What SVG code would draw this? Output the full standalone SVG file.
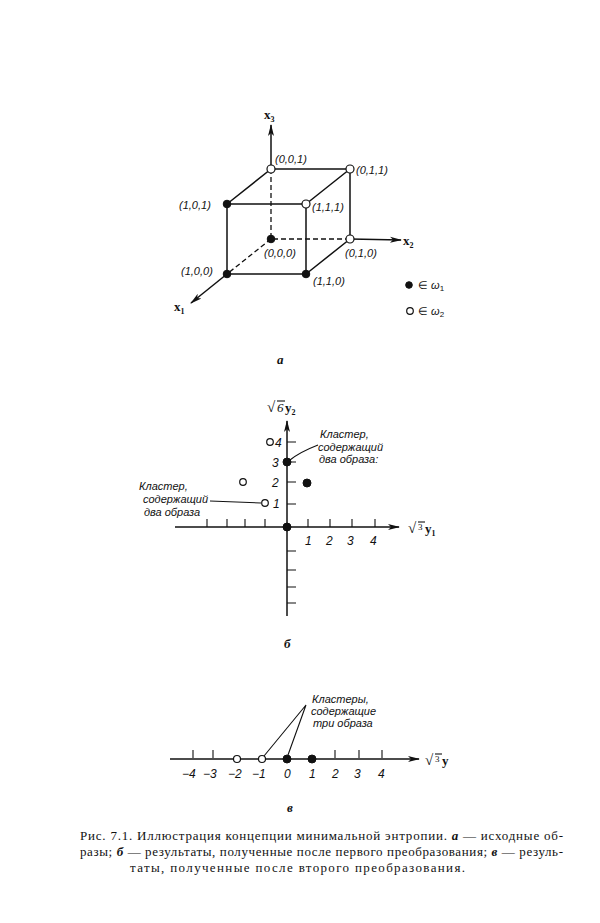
<svg xmlns="http://www.w3.org/2000/svg" width="600" height="923" viewBox="0 0 600 923">
<defs>
<style>
.ln{stroke:#111;stroke-width:1.5;fill:none}
.dsh{stroke:#111;stroke-width:1.3;fill:none;stroke-dasharray:5,3}
.tk{stroke:#111;stroke-width:1.1;fill:none}
.fd{fill:#111;stroke:#111;stroke-width:1}
.od{fill:#fff;stroke:#111;stroke-width:1.2}
.lb{font-family:"Liberation Sans",Arial,sans-serif;font-style:italic;font-size:11px;fill:#111}
.num{font-family:"Liberation Sans",Arial,sans-serif;font-style:italic;font-size:12px;fill:#111}
.ax{font-family:"Liberation Serif","Times New Roman",serif;font-weight:bold;font-size:13px;fill:#111}
.sub{font-size:8px}
.cap{font-family:"Liberation Serif","Times New Roman",serif;font-size:13px;fill:#111}
.pl{font-family:"Liberation Serif","Times New Roman",serif;font-style:italic;font-weight:bold;font-size:13px;fill:#111}
</style>
<marker id="ah" markerWidth="12" markerHeight="8" refX="11" refY="4" orient="auto" markerUnits="userSpaceOnUse">
<path d="M0,1 L12,4 L0,7 L3,4 Z" fill="#111"/>
</marker>
</defs>
<rect width="600" height="923" fill="#fff"/>

<!-- Panel a: cube -->
<g id="connectors-a">
<path class="ln" d="M227,204 H306 V274 H227 Z"/>
<path class="ln" d="M271,169 H350 V239"/>
<path class="ln" d="M227,204 L271,169 M306,204 L350,169 M306,274 L350,239"/>
<path class="dsh" d="M271,169 V239 H350 M271,239 L227,274"/>
<line class="ln" x1="271" y1="169" x2="271" y2="125" marker-end="url(#ah)"/>
<line class="ln" x1="350" y1="239" x2="401" y2="240" marker-end="url(#ah)"/>
<line class="ln" x1="227" y1="274" x2="191" y2="303" marker-end="url(#ah)"/>
</g>
<g id="axis-labels-a">
<text class="ax" x="264" y="119">x<tspan class="sub" dy="3">3</tspan></text>
<text class="ax" x="403" y="245">x<tspan class="sub" dy="3">2</tspan></text>
<text class="ax" x="174" y="311">x<tspan class="sub" dy="3">1</tspan></text>
</g>
<g id="v001"><circle class="od" cx="271" cy="169" r="4"/><text class="lb" x="275" y="163">(0,0,1)</text></g>
<g id="v011"><circle class="od" cx="350" cy="169" r="4"/><text class="lb" x="356" y="174">(0,1,1)</text></g>
<g id="v101"><circle class="fd" cx="227" cy="204" r="3.8"/><text class="lb" x="179" y="209">(1,0,1)</text></g>
<g id="v111"><circle class="od" cx="306" cy="204" r="4"/><text class="lb" x="312" y="211">(1,1,1)</text></g>
<g id="v000"><circle class="fd" cx="271" cy="239" r="3.8"/><text class="lb" x="264" y="257">(0,0,0)</text></g>
<g id="v010"><circle class="od" cx="350" cy="239" r="4"/><text class="lb" x="345" y="257">(0,1,0)</text></g>
<g id="v100"><circle class="fd" cx="227" cy="274" r="3.8"/><text class="lb" x="181" y="275">(1,0,0)</text></g>
<g id="v110"><circle class="fd" cx="306" cy="274" r="3.8"/><text class="lb" x="313" y="285">(1,1,0)</text></g>
<g id="legend">
<circle class="fd" cx="409" cy="285" r="3.3"/>
<text class="lb" x="418" y="289" style="font-style:normal">∈ <tspan style="font-style:italic">ω</tspan><tspan class="sub" dy="2">1</tspan></text>
<circle class="od" cx="410" cy="311" r="3.3"/>
<text class="lb" x="418" y="315" style="font-style:normal">∈ <tspan style="font-style:italic">ω</tspan><tspan class="sub" dy="2">2</tspan></text>
</g>
<text class="pl" x="277" y="364">a</text>

<!-- Panel b -->
<g id="connectors-b">
<line class="ln" x1="175" y1="527" x2="399" y2="527" marker-end="url(#ah)"/>
<line class="ln" x1="287" y1="616" x2="287" y2="421" marker-end="url(#ah)"/>
<path class="tk" d="M207,527 V519 M227,527 V519 M245,527 V519 M265,527 V519 M308,527 V519 M330,527 V519 M352,527 V519 M375,527 V519"/>
<path class="tk" d="M287,442 H296 M287,462 H296 M287,482 H296 M287,504 H296 M287,551 H296 M287,570 H296 M287,587 H296 M287,603 H296"/>
<path class="tk" d="M290,460 Q300,452 318,445"/>
<path class="tk" d="M210,501 L261,503"/>
</g>
<g id="axis-labels-b">
<text class="ax" x="267" y="412" style="font-weight:normal;font-size:15px">√</text>
<line class="tk" x1="277" y1="401" x2="285" y2="401"/>
<text class="ax" x="277" y="412" style="font-weight:normal;font-style:italic">6</text>
<text class="ax" x="285" y="412">y<tspan class="sub" dy="3">2</tspan></text>
<text class="ax" x="408" y="533" style="font-weight:normal;font-size:15px">√</text>
<line class="tk" x1="418" y1="522" x2="425" y2="522"/>
<text class="ax" x="418" y="530" style="font-weight:normal;font-size:9px">3</text>
<text class="ax" x="425" y="533">y<tspan class="sub" dy="3">1</tspan></text>
</g>
<g id="ticklabels-b">
<text class="num" x="275" y="447">4</text>
<text class="num" x="272" y="467">3</text>
<text class="num" x="272" y="487">2</text>
<text class="num" x="273" y="508">1</text>
<text class="num" x="305" y="545">1</text>
<text class="num" x="326" y="545">2</text>
<text class="num" x="347" y="545">3</text>
<text class="num" x="370" y="545">4</text>
</g>
<g id="points-b">
<circle class="fd" cx="287" cy="462" r="4"/>
<circle class="fd" cx="287" cy="527" r="4"/>
<circle class="fd" cx="307" cy="483" r="4"/>
<circle class="od" cx="270" cy="442" r="3.3"/>
<circle class="od" cx="243" cy="482" r="3.3"/>
<circle class="od" cx="265" cy="503" r="3.3"/>
</g>
<g id="cluster-b-right">
<text class="lb" x="320" y="438">Кластер,</text>
<text class="lb" x="318" y="451">содержащий</text>
<text class="lb" x="319" y="463">два образа:</text>
</g>
<g id="cluster-b-left">
<text class="lb" x="139" y="490">Кластер,</text>
<text class="lb" x="143" y="503">содержащий</text>
<text class="lb" x="144" y="516">два образа</text>
</g>
<text class="pl" x="284" y="648">б</text>

<!-- Panel c -->
<g id="connectors-c">
<line class="ln" x1="170" y1="759" x2="419" y2="759" marker-end="url(#ah)"/>
<path class="tk" d="M193,758 V750 M213,758 V750 M335,758 V750 M359,758 V750 M382,758 V750"/>
<path class="tk" d="M306,705 L264,756 M306,705 L288,755"/>
</g>
<g id="axis-label-c">
<text class="ax" x="425" y="765" style="font-weight:normal;font-size:15px">√</text>
<line class="tk" x1="435" y1="754" x2="442" y2="754"/>
<text class="ax" x="435" y="762" style="font-weight:normal;font-size:9px">3</text>
<text class="ax" x="442" y="765">y</text>
</g>
<g id="ticklabels-c">
<text class="num" x="182" y="778">−4</text>
<text class="num" x="203" y="778">−3</text>
<text class="num" x="228" y="778">−2</text>
<text class="num" x="252" y="778">−1</text>
<text class="num" x="284" y="778">0</text>
<text class="num" x="309" y="778">1</text>
<text class="num" x="332" y="778">2</text>
<text class="num" x="354" y="778">3</text>
<text class="num" x="378" y="778">4</text>
</g>
<g id="points-c">
<circle class="od" cx="237" cy="759" r="3.5"/>
<circle class="od" cx="262" cy="759" r="3.5"/>
<circle class="fd" cx="287" cy="759" r="4"/>
<circle class="fd" cx="312" cy="759" r="4"/>
</g>
<g id="cluster-c">
<text class="lb" x="312" y="703">Кластеры,</text>
<text class="lb" x="311" y="715">содержащие</text>
<text class="lb" x="313" y="727">три образа</text>
</g>
<text class="pl" x="287" y="812">в</text>

<!-- Caption -->
<g id="caption">
<text class="cap" x="80" y="840" textLength="483" lengthAdjust="spacing">Рис. 7.1. Иллюстрация концепции минимальной энтропии. <tspan font-style="italic" font-weight="bold">а</tspan> — исходные об-</text>
<text class="cap" x="80" y="856" textLength="483" lengthAdjust="spacing">разы; <tspan font-style="italic" font-weight="bold">б</tspan> — результаты, полученные после первого преобразования; <tspan font-style="italic" font-weight="bold">в</tspan> — резуль-</text>
<text class="cap" x="130" y="872" textLength="335" lengthAdjust="spacing">таты, полученные после второго преобразования.</text>
</g>
</svg>
